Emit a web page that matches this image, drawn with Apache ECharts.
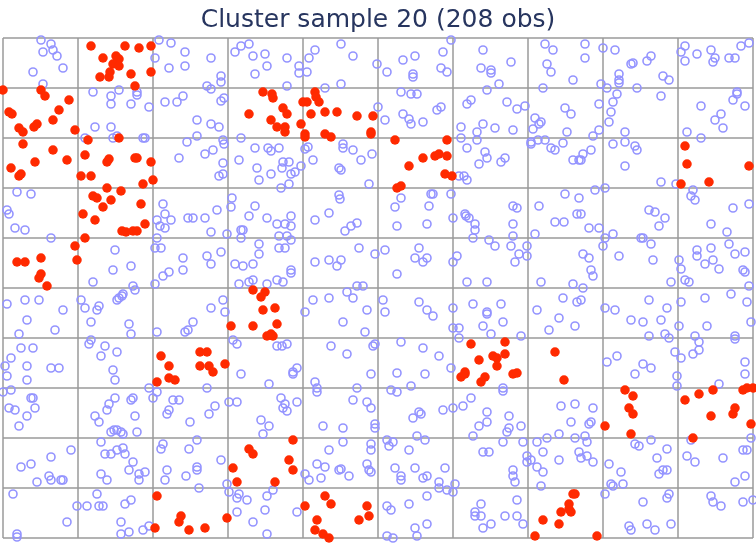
<!DOCTYPE html>
<html>
<head>
<meta charset="utf-8">
<title>Cluster sample</title>
<script src="https://cdn.jsdelivr.net/npm/echarts@6/dist/echarts.min.js"></script>
<style>
  html, body { margin: 0; padding: 0; background: #fff; }
</style>
</head>
<body>
<div id="myEcharts" style="width: 756px; height: 544px"></div>
<script>
const titleText = "Cluster sample 20 (208 obs)";

// 10 x 10 cells, each cell 75 x 50 units
const xMax = 750;
const yMax = 500;
const xStep = 75;
const yStep = 50;

// units not in the sample
const unsampled = [
  [38,498],[48,494],[40,486],[50,488],[54,482],[30,466],[60,470],[40,454],[156,498],[168,495],[182,486],[152,480],[166,470],[182,472],[90,446],[108,442],[116,448],[134,446],[134,443],[108,434],[128,434],[146,431],[162,436],[174,436],[180,442],[92,411],[108,411],[82,400],[110,400],[114,402],[140,400],[142,400],[184,396],[176,380],[14,346],[28,344],
  [208,480],[218,462],[218,456],[204,452],[208,449],[218,437],[221,440],[194,418],[208,414],[216,411],[194,402],[220,398],[221,394],[210,388],[202,384],[220,375],[216,362],[220,364],[238,400],[236,378],[254,370],[256,358],[268,364],[278,350],[286,354],[229,340],[232,486],[238,492],[246,494],[250,482],[262,484],[264,472],[252,464],[284,480],[296,472],[296,465],[304,466],[284,452],[312,488],[306,480],[338,494],[350,482],[374,474],[338,454],[322,450],[375,431],[252,390],[265,390],[268,387],[276,390],[280,376],[286,376],[279,370],[298,372],[288,364],[292,366],[302,389],[305,391],[310,378],[340,394],[340,390],[350,388],[358,378],[369,384],[336,370],[338,368],[366,354],[336,343],[337,339],
  [448,498],[440,486],[438,470],[444,466],[400,478],[412,482],[410,464],[410,461],[384,466],[480,488],[478,470],[488,468],[488,465],[508,476],[496,454],[484,448],[542,494],[550,488],[544,474],[548,466],[540,450],[398,446],[408,444],[414,444],[400,424],[406,419],[408,414],[420,416],[382,418],[434,428],[438,431],[464,434],[468,438],[504,436],[514,429],[522,432],[458,411],[474,406],[480,414],[492,410],[510,408],[458,400],[474,398],[464,390],[482,386],[484,380],[476,374],[502,380],[498,376],[456,362],[461,362],[464,358],[428,344],[430,344],[448,344],[398,340],[532,420],[530,409],[536,414],[538,416],[528,396],[528,394],[535,398],[542,398],[548,390],[552,388],[560,395],[562,430],[562,344],
  [582,494],[582,480],[600,490],[612,488],[570,458],[628,474],[630,475],[644,477],[648,482],[616,464],[616,458],[616,455],[598,454],[604,450],[634,450],[660,462],[666,458],[658,442],[614,444],[610,436],[608,426],[606,416],[596,434],[596,408],[590,402],[568,424],[564,406],[588,388],[580,384],[570,378],[576,378],[578,378],[622,406],[622,396],[610,394],[632,392],[634,388],[622,372],[658,356],[673,354],[602,350],[592,348],[576,340],[678,486],[682,492],[682,477],[694,484],[708,488],[712,480],[710,476],[726,480],[732,480],[738,492],[746,495],[734,446],[734,444],[730,438],[742,432],[698,432],[718,424],[712,418],[720,410],[684,406],[698,400],[690,348],[688,342],[692,338],
  [4,328],[6,324],[12,310],[22,308],[48,300],[160,334],[162,324],[154,318],[168,318],[157,312],[162,310],[154,300],[152,290],[158,290],[185,320],[112,288],[110,268],[128,272],[90,256],[180,280],[180,268],[166,266],[160,262],[152,254],[130,252],[132,248],[4,234],[22,238],[36,238],[60,228],[24,218],[52,208],[16,204],[78,238],[82,230],[94,228],[96,232],[114,238],[116,240],[119,242],[120,244],[88,216],[126,214],[128,204],[154,206],[182,206],[185,208],[2,172],[8,180],[18,190],[30,190],[24,172],[48,170],[56,170],[88,198],[86,194],[102,192],[98,182],[114,186],[110,168],
  [190,320],[202,320],[214,328],[208,306],[224,304],[228,331],[252,332],[246,322],[264,320],[274,314],[282,314],[288,322],[288,312],[238,308],[240,308],[238,300],[276,302],[284,302],[288,298],[256,294],[256,284],[276,290],[282,290],[204,282],[208,274],[218,286],[232,274],[240,272],[250,274],[288,268],[288,265],[236,254],[246,256],[250,258],[264,254],[274,258],[280,256],[312,318],[326,325],[342,307],[348,312],[354,315],[312,276],[326,278],[334,272],[338,278],[356,290],[372,284],[220,238],[208,230],[222,226],[190,216],[230,198],[234,194],[274,192],[279,192],[284,194],[310,238],[326,240],[302,226],[344,246],[350,240],[354,252],[360,252],[364,228],[340,216],[362,206],[328,192],[344,184],[370,192],[372,194],[294,170],[290,166],
  [392,331],[426,332],[394,312],[424,314],[450,320],[462,324],[463,322],[466,320],[472,314],[472,308],[470,300],[510,332],[514,330],[536,332],[510,314],[510,302],[532,304],[552,316],[561,316],[382,288],[416,290],[412,280],[420,276],[424,280],[394,264],[450,276],[454,282],[486,298],[492,292],[508,292],[524,292],[516,284],[524,282],[512,276],[464,256],[484,256],[538,256],[380,238],[382,226],[416,236],[424,228],[430,222],[450,230],[470,234],[484,226],[484,224],[498,234],[500,216],[480,212],[488,204],[450,210],[456,210],[456,200],[518,202],[534,228],[556,220],[546,208],[560,240],[398,196],[420,190],[436,182],[448,170],
  [574,324],[578,324],[586,310],[596,310],[610,304],[602,300],[600,292],[646,328],[652,326],[662,320],[656,312],[638,300],[640,300],[648,294],[730,330],[746,334],[708,314],[724,306],[580,284],[586,280],[588,268],[590,262],[616,282],[650,278],[570,254],[580,250],[574,236],[578,238],[572,212],[668,256],[676,278],[678,269],[682,258],[686,256],[694,288],[694,282],[702,274],[708,290],[710,278],[716,269],[726,294],[732,284],[742,286],[740,268],[742,266],[746,252],[602,230],[612,228],[628,218],[640,216],[646,238],[658,218],[664,230],[646,202],[662,204],[666,200],[676,212],[678,236],[702,240],[704,212],[728,244],[744,236],[748,216],[692,202],[696,196],[696,188],[690,184],[732,202],[732,199],[672,186],[678,180],[742,176],[604,176],[614,182],[640,174],[648,170],
  [4,162],[24,158],[112,158],[0,146],[8,148],[28,140],[30,140],[6,130],[12,128],[32,130],[24,122],[16,112],[112,140],[106,134],[104,128],[92,122],[96,116],[128,138],[130,140],[132,122],[146,150],[154,146],[150,140],[170,138],[176,138],[166,128],[164,124],[187,116],[108,106],[111,108],[114,108],[118,106],[120,104],[134,106],[98,96],[68,88],[48,81],[18,71],[28,74],[46,62],[48,58],[58,58],[60,58],[34,56],[102,84],[108,84],[114,88],[120,90],[122,84],[130,76],[126,68],[98,64],[104,58],[136,64],[142,66],[136,58],[158,89],[160,94],[164,68],[162,58],[183,62],[186,89],[10,44],[14,4],[14,1],[64,16],[74,32],[84,32],[94,44],[96,32],[100,32],[122,34],[128,38],[118,16],[118,4],[126,6],[140,8],[146,12],
  [238,164],[266,154],[290,164],[204,150],[212,132],[206,124],[226,136],[234,136],[278,140],[282,134],[280,130],[284,127],[294,136],[258,118],[266,112],[260,104],[312,156],[314,150],[314,146],[354,150],[368,164],[350,138],[364,136],[368,130],[320,112],[340,110],[372,114],[372,110],[194,98],[194,71],[194,68],[196,50],[218,78],[224,54],[226,46],[236,44],[234,40],[244,38],[264,42],[270,48],[262,28],[234,26],[250,16],[264,4],[294,26],[302,64],[306,58],[314,74],[322,71],[318,60],[326,88],[340,96],[336,68],[338,69],[346,62],[368,94],[368,88],[364,74],[366,68],[368,66],
  [394,165],[422,164],[388,148],[394,146],[408,152],[500,150],[500,147],[468,140],[460,132],[450,130],[440,128],[416,126],[418,124],[410,120],[484,126],[484,116],[476,112],[506,122],[506,110],[504,106],[518,112],[558,132],[414,102],[422,98],[384,98],[386,92],[390,96],[406,88],[470,102],[500,96],[520,96],[534,96],[544,100],[556,104],[480,86],[486,86],[524,82],[524,76],[528,78],[540,86],[556,78],[534,71],[540,66],[538,52],[510,68],[510,62],[512,56],[392,70],[398,62],[398,58],[412,70],[420,60],[424,62],[442,70],[436,56],[436,50],[444,48],[450,46],[452,54],[424,42],[406,34],[384,32],[388,28],[412,10],[424,14],[414,2],[384,2],[390,0],[478,34],[472,26],[472,22],[478,22],[480,10],[488,14],[502,22],[514,38],[514,22],[520,14],
  [632,164],[674,162],[674,152],[716,154],[742,164],[572,134],[590,130],[568,116],[586,114],[588,116],[572,100],[582,102],[584,96],[576,86],[578,80],[584,82],[590,76],[632,94],[636,92],[648,98],[664,89],[654,80],[606,74],[618,66],[656,64],[660,68],[664,68],[608,54],[610,52],[620,54],[602,44],[640,36],[666,44],[664,40],[626,12],[628,8],[644,14],[652,8],[668,14],[688,98],[684,82],[692,76],[720,80],[740,88],[744,88],[748,100],[742,62],[732,56],[708,42],[710,36],[718,32],[740,36],[750,38]
];

// units in the 20 sampled clusters
const sampled = [
  [88,492],[122,492],[136,490],[148,492],[100,480],[113,482],[116,479],[110,474],[116,472],[107,466],[97,461],[106,461],[128,464],[148,466],[132,452],[0,448],[38,448],[42,442],[66,438],[6,426],[9,424],[56,428],[50,418],[16,410],[20,406],[31,411],[34,414],[72,408],[20,394],[85,398],[116,400],[50,388],[82,383],[64,378],[32,376],[8,370],[16,362],[18,364],[104,376],[106,379],[132,380],[134,380],[148,376],[78,362],[88,362],[150,358],[140,354],[104,350],[118,347],[90,342],[94,340],[108,338],
  [260,446],[269,444],[270,440],[246,424],[280,430],[284,424],[268,418],[274,411],[282,411],[282,406],[298,414],[300,436],[304,436],[312,446],[313,441],[316,436],[308,424],[322,426],[334,426],[302,404],[302,401],[322,404],[328,401],[354,422],[370,422],[368,406],[368,404],
  [392,398],[444,398],[420,380],[406,372],[432,382],[436,384],[444,382],[442,364],[449,362],[394,350],[398,352],
  [682,392],[684,374],[746,372],[678,354],[706,356],
  [138,334],[100,331],[80,324],[92,318],[142,314],[119,307],[123,306],[130,307],[134,307],[82,300],[72,292],[74,278],[14,276],[22,276],[38,280],[38,264],[36,260],[44,252],[158,182],[166,172],
  [250,248],[262,246],[258,241],[260,228],[272,230],[228,212],[250,212],[274,214],[264,202],[268,204],[270,202],[197,186],[204,186],[197,172],[206,172],[210,166],[222,174],
  [468,194],[502,196],[490,182],[494,180],[502,184],[476,178],[494,172],[462,166],[552,186],
  [154,156],[166,160],[172,158],[154,42],[178,22],[176,16],[152,10],[186,8],
  [246,89],[250,84],[290,98],[286,78],[290,68],[230,70],[234,56],[272,56],[224,20],[202,10],[322,42],[328,34],[302,32],[314,18],[312,8],[320,4],[326,0],[364,32],[366,22],[356,18],
  [458,161],[462,164],[478,156],[482,161],[510,164],[514,165],[561,158],[532,2],[540,18],[556,14],[558,26],
  [622,148],[630,142],[626,130],[630,124],[602,112],[628,104],[682,138],[696,144],[710,148],[740,148],[744,150],[750,150],[708,122],[730,124],[732,130],[748,114],[690,100],[570,44],[572,44],[566,34],[566,29],[568,26],[594,2]
];

const chart = echarts.init(document.getElementById("myEcharts"));

const axisCommon = {
  type: "value",
  axisLine: { show: false },
  axisTick: { show: false },
  axisLabel: { show: false },
  splitLine: {
    show: true,
    lineStyle: { color: "#9a9a9a", width: 1.5 },
  },
};

const option = {
  animation: false,
  title: {
    text: titleText,
    left: "center",
    top: 3,
    textStyle: {
      fontFamily: "DejaVu Sans",
      fontSize: 25,
      fontWeight: "normal",
      color: "#27355f",
    },
  },
  grid: { left: 3, right: 3, top: 38, bottom: 6 },
  xAxis: Object.assign({}, axisCommon, { min: 0, max: xMax, interval: xStep }),
  yAxis: Object.assign({}, axisCommon, { min: 0, max: yMax, interval: yStep }),
  series: [
    {
      name: "not sampled",
      type: "scatter",
      clip: false,
      symbol: "circle",
      symbolSize: 8,
      itemStyle: {
        color: "rgba(0,0,0,0)",
        borderColor: "#9494ff",
        borderWidth: 1.6,
        opacity: 1,
      },
      data: unsampled,
    },
    {
      name: "sampled",
      type: "scatter",
      clip: false,
      symbol: "circle",
      symbolSize: 9.5,
      itemStyle: { color: "#ff2a00", opacity: 1 },
      data: sampled,
    },
  ],
};

chart.setOption(option);
</script>
</body>
</html>
